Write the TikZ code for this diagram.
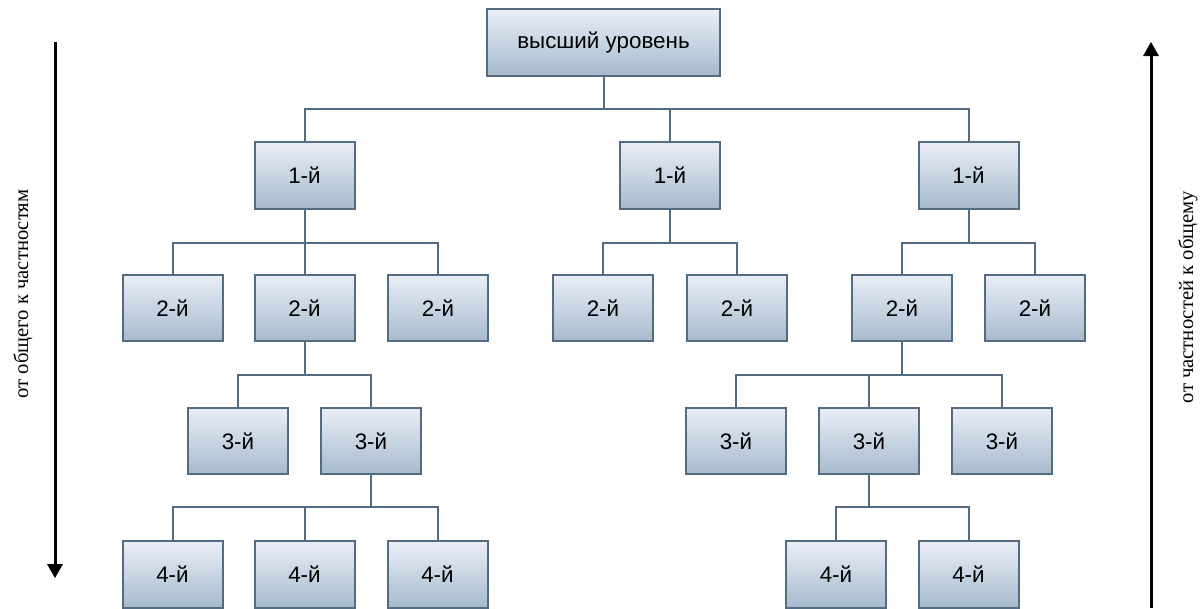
\documentclass[tikz,border=0pt]{standalone}
\usepackage{fontspec}
\setmainfont{Liberation Serif}
\newfontfamily\boxfont{Liberation Sans}
\usepackage{xcolor}
\definecolor{boxline}{RGB}{84,108,130}
\definecolor{boxtop}{RGB}{234,238,247}
\definecolor{boxbottom}{RGB}{166,186,204}
\tikzset{
  levelbox/.style={draw=boxline, line width=1.5pt, top color=boxtop, bottom color=boxbottom,
    minimum width=75pt, minimum height=50pt, inner sep=0.75pt,
    font=\boxfont\fontsize{16.8}{20}\selectfont},
  branch/.style={draw=boxline, line width=1.5pt},
  sidetext/.style={inner sep=0.75pt, rotate=90, font=\fontsize{15.5}{18}\selectfont}
}
\begin{document}
\begin{tikzpicture}[x=0.75pt,y=0.75pt,yscale=-1,xscale=1]
\useasboundingbox (0,0) rectangle (1204,608);

% Top node
\node [levelbox, minimum width=174.75pt] (top) at (603.5,42.5) {высший уровень};
% Level 1
\node [levelbox] (la) at (304.5,175.5) {1-й};
\node [levelbox] (lb) at (670,175.5) {1-й};
\node [levelbox] (lc) at (968.5,175.5) {1-й};
% Level 2
\node [levelbox] (laa) at (172.5,308) {2-й};
\node [levelbox] (lab) at (304.5,308) {2-й};
\node [levelbox] (lac) at (438,308) {2-й};
\node [levelbox] (lba) at (603,308) {2-й};
\node [levelbox] (lbb) at (737,308) {2-й};
\node [levelbox] (lca) at (902,308) {2-й};
\node [levelbox] (lcb) at (1035,308) {2-й};
% Level 3
\node [levelbox] (laba) at (238,441) {3-й};
\node [levelbox] (labb) at (371,441) {3-й};
\node [levelbox] (lcaa) at (736,441) {3-й};
\node [levelbox] (lcab) at (869,441) {3-й};
\node [levelbox] (lcac) at (1002,441) {3-й};
% Level 4
\node [levelbox] (labba) at (172.5,574.5) {4-й};
\node [levelbox] (labbb) at (304.5,574.5) {4-й};
\node [levelbox] (labbc) at (437.5,574.5) {4-й};
\node [levelbox] (lcaba) at (836,574.5) {4-й};
\node [levelbox] (lcabb) at (968.5,574.5) {4-й};

%Branch Lines
\draw [branch] (top.south) -- ++(0,32) -| (la.north);
\draw [branch] (top.south) -- ++(0,32) -| (lb.north);
\draw [branch] (top.south) -- ++(0,32) -| (lc.north);
\draw [branch] (la.south) -- ++(0,33) -| (laa.north);
\draw [branch] (la.south) -- ++(0,33) -| (lab.north);
\draw [branch] (la.south) -- ++(0,33) -| (lac.north);
\draw [branch] (lb.south) -- ++(0,33) -| (lba.north);
\draw [branch] (lb.south) -- ++(0,33) -| (lbb.north);
\draw [branch] (lc.south) -- ++(0,33) -| (lca.north);
\draw [branch] (lc.south) -- ++(0,33) -| (lcb.north);
\draw [branch] (lab.south) -- ++(0,33) -| (laba.north);
\draw [branch] (lab.south) -- ++(0,33) -| (labb.north);
\draw [branch] (lca.south) -- ++(0,33) -| (lcaa.north);
\draw [branch] (lca.south) -- ++(0,33) -| (lcab.north);
\draw [branch] (lca.south) -- ++(0,33) -| (lcac.north);
\draw [branch] (labb.south) -- ++(0,32) -| (labba.north);
\draw [branch] (labb.south) -- ++(0,32) -| (labbb.north);
\draw [branch] (labb.south) -- ++(0,32) -| (labbc.north);
\draw [branch] (lcab.south) -- ++(0,32) -| (lcaba.north);
\draw [branch] (lcab.south) -- ++(0,32) -| (lcabb.north);

%Side Arrows
\coordinate (downstart) at (55,42);
\coordinate (downend) at (55,566);
\coordinate (upstart) at (1151,608);
\coordinate (upend) at (1151,54);
\draw [line width=2.25pt] (downstart) -- (downend);
\draw [shift={(55,578)}, rotate=270] [fill=black][line width=0.08] [draw opacity=0] (14,-8) -- (0,0) -- (14,8) -- cycle ;
\draw [line width=2.25pt] (upstart) -- (upend);
\draw [shift={(1151,42)}, rotate=90] [fill=black][line width=0.08] [draw opacity=0] (14,-8) -- (0,0) -- (14,8) -- cycle ;

% Text Node
\node [sidetext] (downtext) at (23,294) {от общего к частностям};
% Text Node
\node [sidetext] (uptext) at (1188,297) {от частностей к общему};

\end{tikzpicture}
\end{document}
